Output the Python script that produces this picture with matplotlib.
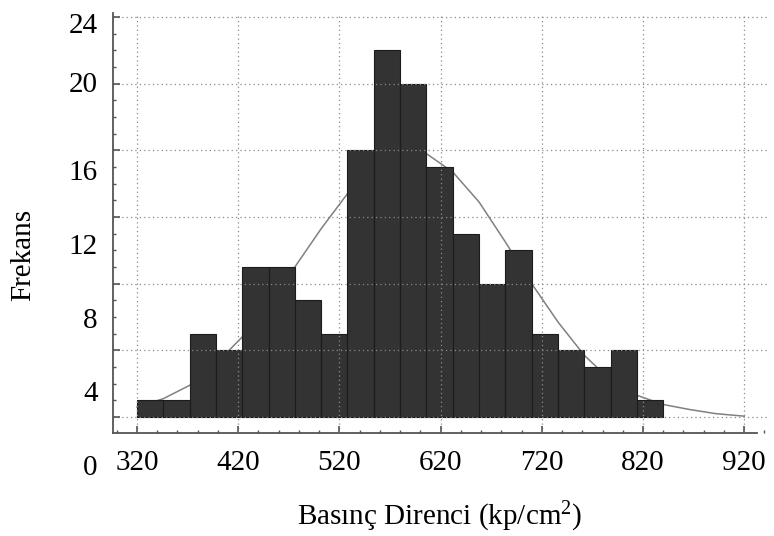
import numpy as np
import matplotlib.pyplot as plt
from matplotlib.ticker import MultipleLocator

# histogram: 20 classes, width 26, starting at 320
bin_start = 320
bin_width = 26
counts = [1, 1, 5, 4, 9, 9, 7, 5, 16, 22, 20, 15, 11, 8, 10, 5, 4, 3, 4, 1]

# fitted curve
curve_x = [320, 346, 372, 398, 424, 450, 476, 502, 528, 554, 580, 606,
           632, 658, 684, 710, 736, 762, 788, 814, 840, 866, 892, 920]
curve_y = [0.6, 1.1, 1.9, 3.2, 4.8, 6.8, 9.0, 11.3, 13.4, 15.0, 15.9, 15.8,
           14.7, 12.9, 10.5, 8.0, 5.7, 3.7, 2.2, 1.3, 0.75, 0.45, 0.2, 0.05]

xticks = [320, 420, 520, 620, 720, 820, 920]
yticks = [0, 4, 8, 12, 16, 20, 24]
ylabel_pos = [0, 4, 8, 12, 16, 20.8, 24]

plt.rcParams['font.family'] = ['Liberation Serif', 'DejaVu Serif']
plt.rcParams['mathtext.fontset'] = 'custom'
plt.rcParams['mathtext.rm'] = 'Liberation Serif'
plt.rcParams['mathtext.it'] = 'Liberation Serif:italic'

fig = plt.figure(figsize=(7.74, 5.36), dpi=100)
ax = fig.add_axes([113/774, 103/536, 655.5/774, 420/536])

left = np.array([bin_start + i*bin_width for i in range(len(counts))])
ax.plot(curve_x, curve_y, color='#808080', linewidth=1.1, zorder=1.5)
ax.bar(left, counts, width=bin_width, align='edge', color='#333333',
       edgecolor='#1c1c1c', linewidth=0.8, zorder=2)

ax.set_xlim(296.3, 944)
ax.set_ylim(-0.96, 24.24)

ax.set_xticks(xticks)
ax.set_yticks(yticks)
ax.xaxis.set_minor_locator(MultipleLocator(20))
ax.yaxis.set_minor_locator(MultipleLocator(1))
ax.set_yticklabels([])
ax.tick_params(axis='both', which='major', direction='in', length=5,
               width=1.2, color='#555555', labelsize=21, pad=12)
ax.tick_params(axis='both', which='minor', direction='in', length=2.5,
               width=1.0, color='#555555')

ax.grid(True, which='major', linestyle=(0, (1, 2.5)), color='#8a8a8a',
        linewidth=0.9)
ax.set_axisbelow(False)

ax.spines['top'].set_visible(False)
ax.spines['right'].set_visible(False)
for s in ['left', 'bottom']:
    ax.spines[s].set_color('#555555')
    ax.spines[s].set_linewidth(1.3)
ax.spines['bottom'].set_bounds(296.3, 933)

ax.set_xlabel(r'Basınç Direnci (kp/cm$^{\mathrm{2}}$)', fontsize=21)
ax.xaxis.set_label_coords(0.499, -0.16)
ax.set_ylabel('Frekans', fontsize=21, va='center')
ax.yaxis.set_label_coords(-0.137, 0.424)

# y labels of the original are typeset on their own scale
lab = fig.add_axes([113/774, 71/536, 0.001, 442/536])
lab.set_ylim(0, 24)
lab.set_yticks(ylabel_pos)
lab.set_yticklabels([str(v) for v in yticks])
lab.tick_params(axis='y', length=0, labelsize=21, pad=11)
lab.set_xticks([])
for s in lab.spines.values():
    s.set_visible(False)
lab.patch.set_alpha(0)

fig.savefig('out.png', dpi=100)
